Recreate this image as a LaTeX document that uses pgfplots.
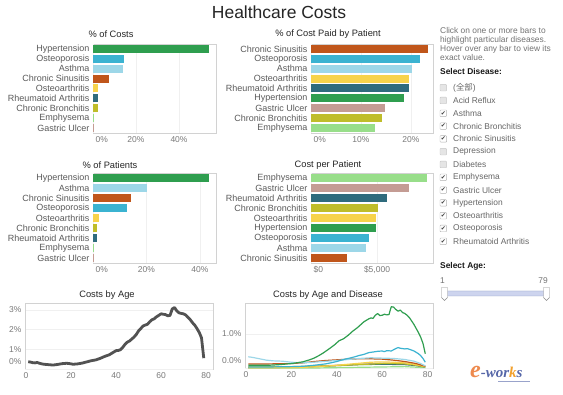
\documentclass[border=0pt]{standalone}
\usepackage{pgfplots}
\pgfplotsset{compat=1.18}
\usepackage{fontspec}
\setmainfont{Liberation Sans}
\newfontfamily\cjk{Noto Sans CJK SC}
\newfontfamily\dejavu{DejaVu Sans}
\newfontfamily\logofont{Liberation Serif}

\definecolor{hyp}{HTML}{2F9E4F}
\definecolor{ost}{HTML}{3BB3D1}
\definecolor{ast}{HTML}{9DD7E8}
\definecolor{cs}{HTML}{C0561B}
\definecolor{oa}{HTML}{F7D34B}
\definecolor{ra}{HTML}{2F6B7D}
\definecolor{cb}{HTML}{BFBD2A}
\definecolor{emp}{HTML}{98DE8A}
\definecolor{gu}{HTML}{C49C94}
\definecolor{lbl}{HTML}{5A5A5A}
\definecolor{tck}{HTML}{7A7A7A}
\definecolor{frm}{HTML}{D2D2D2}
\definecolor{eorange}{HTML}{EE8A4E}
\definecolor{eorange2}{HTML}{F2A12E}
\definecolor{eblue}{HTML}{5566A8}
\definecolor{slfill}{HTML}{CDD4EE}
\definecolor{sldraw}{HTML}{8D9AC4}

\pgfplotsset{
  panel/.style={
    scale only axis, anchor=south west,
    axis line style={draw=frm},
    tick style={draw=none},
    grid style={draw=black!6},
    every tick label/.append style={font=\fontsize{8.5}{9}\selectfont, text=tck},
    clip=false,
  },
  barpanel/.style={
    panel, width=123pt, height=89pt,
    y dir=reverse, ymin=0.5, ymax=9.5, ytick={1,...,9},
    yticklabel style={font=\fontsize{9}{10}\selectfont, text=lbl},
    xmin=0, xmajorgrids,
    extra x ticks={0},
    extra x tick style={xticklabel style={anchor=north west, xshift=-1pt}},
  },
  linepanel/.style={
    panel, width=188pt, xmin=-0.44, ymin=0, ymajorgrids,
    xtick={0,20,40,60,80}, xticklabels={0,20,40,60,80},
    extra y ticks={0},
    extra y tick style={yticklabel style={anchor=south east, yshift=0.5pt}},
  },
  B/.style={xbar, bar width=8pt, bar shift=0pt, draw=none, fill=#1},
  L/.style={no markers, line width=1.2pt, color=#1, line join=round},
}

\begin{document}
\begin{tikzpicture}[x=1pt,y=1pt]
\path[use as bounding box, fill=white] (0,0) rectangle (563,395);

\node[font=\fontsize{17.5}{18}\selectfont, text=black!85] at (279,395-12) {Healthcare Costs};

% titles
\begin{scope}[every node/.style={font=\fontsize{9.3}{10}\selectfont, text=black!85}]
\node at (111,395-34) {\% of Costs};
\node at (328,395-34) {\% of Cost Paid by Patient};
\node at (110,395-165) {\% of Patients};
\node at (328,395-165) {Cost per Patient};
\node at (107,395-295) {Costs by Age};
\node at (328,395-295) {Costs by Age and Disease};
\end{scope}

% ---- % of Costs
\begin{axis}[barpanel, at={(93pt,262pt)}, xmax=57.2,
  xtick={20,40}, xticklabels={20\%,40\%}, extra x tick labels={0\%},
  yticklabels={Hypertension,Osteoporosis,Asthma,Chronic Sinusitis,Osteoarthritis,Rheumatoid Arthritis,Chronic Bronchitis,Emphysema,Gastric Ulcer}]
\addplot[B=hyp] coordinates {(54.0,1)};
\addplot[B=ost] coordinates {(14.4,2)};
\addplot[B=ast] coordinates {(14.0,3)};
\addplot[B=cs]  coordinates {(7.4,4)};
\addplot[B=oa]  coordinates {(2.3,5)};
\addplot[B=ra]  coordinates {(2.5,6)};
\addplot[B=cb]  coordinates {(2.4,7)};
\addplot[B=emp] coordinates {(0.6,8)};
\addplot[B=gu]  coordinates {(0.15,9)};
\end{axis}

% ---- % of Cost Paid by Patient
\begin{axis}[barpanel, at={(311pt,262pt)}, width=122pt, xmax=24.4,
  xtick={10,20}, xticklabels={10\%,20\%}, extra x tick labels={0\%},
  yticklabels={Chronic Sinusitis,Osteoporosis,Asthma,Osteoarthritis,Rheumatoid Arthritis,Hypertension,Gastric Ulcer,Chronic Bronchitis,Emphysema}]
\addplot[B=cs]  coordinates {(23.4,1)};
\addplot[B=ost] coordinates {(21.8,2)};
\addplot[B=ast] coordinates {(20.2,3)};
\addplot[B=oa]  coordinates {(19.6,4)};
\addplot[B=ra]  coordinates {(19.5,5)};
\addplot[B=hyp] coordinates {(18.6,6)};
\addplot[B=gu]  coordinates {(14.8,7)};
\addplot[B=cb]  coordinates {(14.1,8)};
\addplot[B=emp] coordinates {(12.8,9)};
\end{axis}

% ---- % of Patients
\begin{axis}[barpanel, at={(93pt,132pt)}, height=90pt, xmax=46,
  xtick={20,40}, xticklabels={20\%,40\%}, extra x tick labels={0\%},
  yticklabels={Hypertension,Asthma,Chronic Sinusitis,Osteoporosis,Osteoarthritis,Chronic Bronchitis,Rheumatoid Arthritis,Emphysema,Gastric Ulcer}]
\addplot[B=hyp] coordinates {(43.4,1)};
\addplot[B=ast] coordinates {(20.2,2)};
\addplot[B=cs]  coordinates {(14.2,3)};
\addplot[B=ost] coordinates {(12.7,4)};
\addplot[B=oa]  coordinates {(2.2,5)};
\addplot[B=cb]  coordinates {(1.5,6)};
\addplot[B=ra]  coordinates {(1.5,7)};
\addplot[B=emp] coordinates {(0.4,8)};
\addplot[B=gu]  coordinates {(0.15,9)};
\end{axis}

% ---- Cost per Patient
\begin{axis}[barpanel, at={(311pt,132pt)}, width=122pt, height=90pt, xmax=9240,
  xtick={5000}, xticklabels={\$5{,}000}, extra x tick labels={\$0},
  yticklabels={Emphysema,Gastric Ulcer,Rheumatoid Arthritis,Chronic Bronchitis,Osteoarthritis,Hypertension,Osteoporosis,Asthma,Chronic Sinusitis}]
\addplot[B=emp] coordinates {(8790,1)};
\addplot[B=gu]  coordinates {(7420,2)};
\addplot[B=ra]  coordinates {(5760,3)};
\addplot[B=cb]  coordinates {(5080,4)};
\addplot[B=oa]  coordinates {(4920,5)};
\addplot[B=hyp] coordinates {(4900,6)};
\addplot[B=ost] coordinates {(4390,7)};
\addplot[B=ast] coordinates {(4170,8)};
\addplot[B=cs]  coordinates {(2730,9)};
\end{axis}

% ---- Costs by Age
\begin{axis}[linepanel, at={(25pt,26pt)}, height=66pt, xmax=83.1, ymax=3.35,
  ytick={1,2,3}, yticklabels={1\%,2\%,3\%}, extra y tick labels={0\%}]
\addplot[no markers, line width=2.8pt, color=black!68, line join=round] coordinates {
(1,0.37)(2,0.35)(3,0.32)(4,0.31)(5,0.33)(6,0.29)(7,0.26)(8,0.24)(10,0.22)(12,0.2)
(14,0.23)(16,0.27)(18,0.29)(19,0.28)(21,0.24)(23,0.26)(25,0.3)(27,0.36)(29,0.42)(31,0.46)
(33,0.54)(35,0.64)(37,0.72)(39,0.86)(40,0.93)(41,0.94)(42,0.98)(43,1.1)(44,1.25)(45,1.36)
(46,1.42)(47,1.52)(48,1.62)(49,1.75)(50,1.93)(51,2.05)(52,2.18)(53,2.23)(54,2.27)(55,2.4)
(56,2.5)(57,2.55)(58,2.65)(59,2.72)(60,2.8)(61,2.78)(62,2.76)(63,2.7)(64,2.72)(65,3.05)
(66,3.12)(67,2.95)(68,2.85)(69,2.82)(70,2.8)(71,2.74)(72,2.62)(73,2.5)(74,2.35)(75,2.22)
(76,2.05)(77,1.85)(78,1.58)(79,0.55)};
\end{axis}

% ---- Costs by Age and Disease
\begin{axis}[linepanel, at={(245pt,27pt)}, height=65pt, xmax=82.4, ymax=1.91,
  ytick={1}, yticklabels={1.0\%}, extra y tick labels={0.0\%}]
\addplot[L=emp] coordinates {(1,0.0)(30,0.0)(40,0.01)(50,0.02)(60,0.03)(70,0.04)(79,0.01)};
\addplot[L=gu] coordinates {(1,0.02)(20,0.03)(40,0.08)(50,0.11)(60,0.14)(70,0.14)(79,0.05)};
\addplot[L=ra] coordinates {(1,0.01)(20,0.02)(30,0.04)(40,0.07)(50,0.1)(60,0.11)(70,0.1)(75,0.07)(79,0.03)};
\addplot[L=cb] coordinates {(1,0.04)(20,0.04)(30,0.05)(40,0.07)(50,0.1)(60,0.13)(65,0.13)(70,0.12)(75,0.08)(79,0.03)};
\addplot[L=oa] coordinates {(1,0.01)(20,0.01)(30,0.03)(40,0.08)(45,0.11)(50,0.14)(55,0.17)(60,0.18)(65,0.17)(70,0.15)(75,0.1)(79,0.04)};
\addplot[L=cs] coordinates {(1,0.12)(10,0.12)(20,0.13)(25,0.15)(30,0.19)(35,0.22)(40,0.24)(45,0.26)(50,0.27)(55,0.27)(60,0.26)(65,0.23)(70,0.19)(75,0.13)(79,0.05)};
\addplot[L=ast] coordinates {(1,0.33)(3,0.31)(6,0.27)(9,0.23)(12,0.21)(16,0.2)(20,0.17)(24,0.15)(28,0.16)(32,0.18)(36,0.2)(40,0.22)(45,0.25)(50,0.28)(55,0.3)(60,0.29)(65,0.28)(70,0.25)(74,0.2)(77,0.13)(79,0.06)};
\addplot[L=ost] coordinates {(1,0.03)(10,0.03)(20,0.04)(25,0.05)(30,0.08)(35,0.12)(38,0.16)(40,0.19)(43,0.25)(45,0.28)(48,0.33)(50,0.37)(52,0.4)(54,0.45)(56,0.47)(58,0.49)(60,0.5)(61,0.48)(62,0.51)(64,0.5)(66,0.57)(67,0.6)(68,0.58)(70,0.56)(71,0.57)(72,0.55)(74,0.5)(76,0.42)(77,0.36)(78,0.28)(79,0.17)};
\addplot[L=hyp] coordinates {(1,0.08)(5,0.08)(10,0.08)(15,0.1)(20,0.13)(25,0.18)(28,0.24)(30,0.29)(32,0.36)(34,0.44)(37,0.58)(39,0.68)(41,0.8)(43,0.86)(45,0.96)(47,1.08)(49,1.18)(51,1.3)(52,1.36)(54,1.44)(55,1.47)(56,1.46)(57,1.55)(58,1.6)(59,1.54)(60,1.55)(61,1.58)(62,1.56)(63,1.57)(64,1.8)(65,1.79)(66,1.72)(67,1.67)(68,1.7)(69,1.63)(70,1.6)(71,1.55)(72,1.48)(73,1.38)(74,1.28)(75,1.16)(76,1.04)(77,0.9)(78,0.72)(79,0.42)};
\end{axis}

% ---- right side controls
\begin{scope}[every node/.style={anchor=west, inner sep=0pt, font=\fontsize{8.4}{9}\selectfont, text=black!55}]
\node at (440,395-31) {Click on one or more bars to};
\node at (440,395-40) {highlight particular diseases.};
\node at (440,395-49) {Hover over any bar to view its};
\node at (440,395-58) {exact value.};
\node[text=black!90, font=\fontsize{8.4}{9}\selectfont\bfseries] at (440,395-71.7) {Select Disease:};
\node[text=black!90, font=\fontsize{8.4}{9}\selectfont\bfseries] at (440,395-266.7) {Select Age:};
\node at (440,395-281) {1};
\node[anchor=east] at (548,395-281) {79};
\end{scope}

\foreach \lab/\chk [count=\i from 0] in {{({\cjk 全部})}/0, Acid Reflux/0, Asthma/1, Chronic Bronchitis/1, Chronic Sinusitis/1, Depression/0, Diabetes/0, Emphysema/1, Gastric Ulcer/1, Hypertension/1, Osteoarthritis/1, Osteoporosis/1, Rheumatoid Arthritis/1} {
  \pgfmathsetmacro\yy{395-87.7-12.8*\i}
  \ifnum\chk=1
    \draw[black!30, fill=white, rounded corners=0.8pt] (440,\yy-3.3) rectangle ++(6.6,6.6);
    \node[inner sep=0pt, text=black!75, font=\dejavu\fontsize{6}{6}\selectfont] at (443.4,\yy) {✔};
  \else
    \draw[black!22, fill=black!10, rounded corners=0.8pt] (440,\yy-3.3) rectangle ++(6.6,6.6);
  \fi
  \node[anchor=west, inner sep=0pt, font=\fontsize{8.4}{9}\selectfont, text=black!60] at (453,\yy) {\lab};
}

% slider
\draw[draw=sldraw, fill=slfill, rounded corners=1pt] (443,395-296) rectangle (548,395-291);
\draw[black!45, fill=white] (441.5,395-287.5) -- (447.5,395-287.5) -- (447.5,395-297.5) -- (444.5,395-300.5) -- (441.5,395-297.5) -- cycle;
\draw[black!45, fill=white] (543.5,395-287.5) -- (549.5,395-287.5) -- (549.5,395-297.5) -- (546.5,395-300.5) -- (543.5,395-297.5) -- cycle;

% watermark logo
\node[anchor=base west, inner sep=0pt] at (470,395-378) {\logofont\bfseries\itshape{\color{eorange}\fontsize{24}{24}\selectfont e}{\color{eblue}\fontsize{15}{15}\selectfont -wor}{\color{eorange2}\fontsize{15}{15}\selectfont k}{\color{eblue}\fontsize{15}{15}\selectfont s}};
\fill[eblue!60] (498,395-382.5) rectangle (530,395-381);
\end{tikzpicture}
\end{document}
